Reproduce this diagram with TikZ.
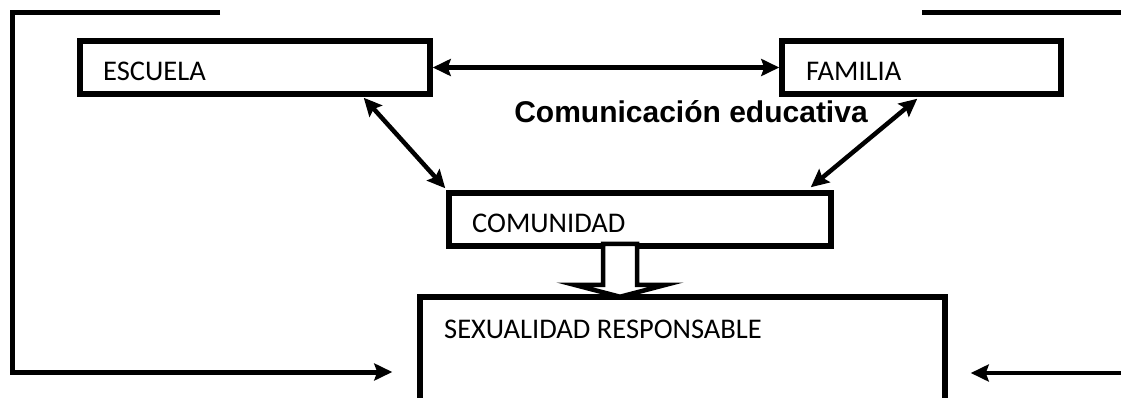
\documentclass[tikz,border=0pt]{standalone}
\usepackage{fontspec}
\setmainfont{Carlito}
\newfontfamily\arialfont{Liberation Sans}
\usetikzlibrary{arrows.meta,calc}
\begin{document}
\begin{tikzpicture}[x=1pt,y=-1pt,
  box/.style={draw,line width=5.5pt,minimum height=53pt,inner sep=0pt},
  lbl/.style={anchor=base west,inner sep=0pt,font=\fontsize{28.5}{30}\selectfont},
  heavy/.style={line width=5pt},
  conn/.style={line width=4.5pt,-{Stealth[length=18pt,width=17pt,inset=3pt]}},
  dconn/.style={line width=4.5pt,{Stealth[length=18pt,width=17pt,inset=3pt]}-{Stealth[length=18pt,width=17pt,inset=3pt]}},
  hollow/.style={draw,fill=white,line width=4.5pt,line join=miter}]
\useasboundingbox (0,0) rectangle (1121,398);
\clip (0,0) rectangle (1121,398);
% boxes
\node[box,minimum width=350pt] (esc) at (255,67.5) {};
\node[box,minimum width=279pt] (fam) at (921.5,67.5) {};
\node[box,minimum width=382pt] (com) at (640,219.5) {};
\node[box,minimum width=525pt,minimum height=123pt] (sex) at (682.5,358.5) {};
% labels
\node[lbl] (tesc) at (103,81) {ESCUELA};
\node[lbl] (tfam) at (806,81) {FAMILIA};
\node[lbl] (tcom) at (472,233) {COMUNIDAD};
\node[lbl] (tsex) at (444,338) {SEXUALIDAD RESPONSABLE};
\node[anchor=base,inner sep=0pt,font=\arialfont\bfseries\fontsize{30}{32}\selectfont] (title) at (691,123) {Comunicación educativa};
% connectors between boxes
\draw[dconn] (esc.east) -- (fam.west);
\draw[dconn] ($(esc.south east)+(-69,1)$) -- ($(com.north west)+(-1,-2)$);
\draw[dconn] ($(fam.south west)+(138,2)$) -- ($(com.north east)+(-23,-3)$);
% hollow arrow
\coordinate (hc) at ($(com.south)+(-20,0)$);
\draw[hollow] ($(hc)+(-17,-5)$) -- ($(hc)+(17,-5)$) -- ($(hc)+(17,36)$) -- ($(hc)+(46,36)$)
  -- ($(hc)+(0,48)$) -- ($(hc)+(-46,36)$) -- ($(hc)+(-17,36)$) -- cycle;
% outer brackets
\coordinate (ltop) at (220,13);
\coordinate (lcorner) at (12,13);
\coordinate (lbot) at (12,372);
\coordinate (lend) at ($(sex.west |- lbot)+(-25,0)$);
\draw[heavy,line join=miter] (ltop) -- (lcorner) -- (lbot) -- ($(lend)+(-12,0)$);
\draw[conn] ($(lbot)+(2,0)$) -- (lend);
\coordinate (rtop) at (922,13);
\coordinate (rtopend) at (1130,13);
\draw[heavy] (rtop) -- (rtopend);
\coordinate (rstart) at (1130,373);
\coordinate (rend) at ($(sex.east |- rstart)+(23,0)$);
\draw[conn] (rstart) -- (rend);
\end{tikzpicture}
\end{document}
